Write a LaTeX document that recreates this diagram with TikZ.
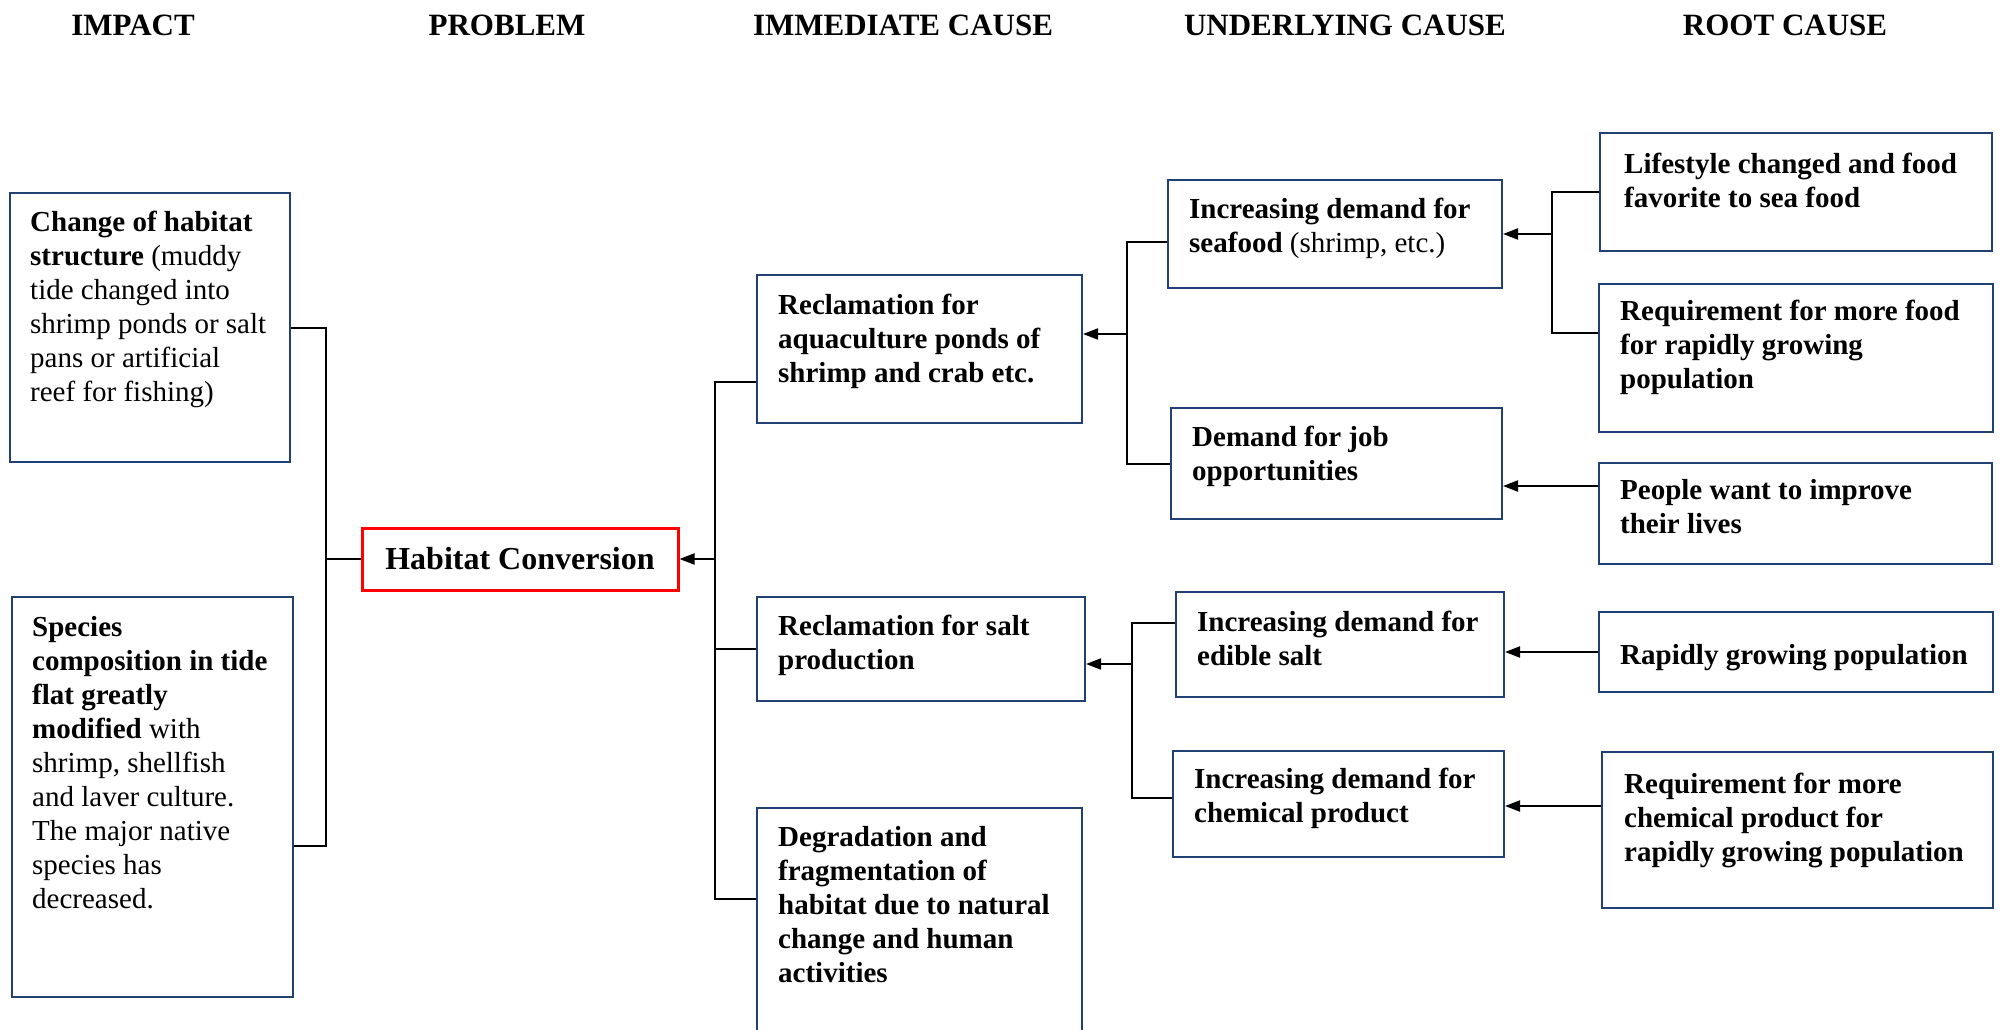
\documentclass[tikz,border=0pt]{standalone}
\usepackage{fontspec}
\setmainfont{Liberation Serif}
\usetikzlibrary{arrows.meta,calc}
\definecolor{boxblue}{RGB}{33,64,118}
\definecolor{hcred}{RGB}{255,0,0}
\begin{document}
\begin{tikzpicture}[x=1pt,y=-1pt,
  bx/.style={draw=boxblue,line width=2pt,inner sep=0pt},
  txt/.style={anchor=north west,align=left,inner sep=0pt,font=\fontsize{29}{34}\selectfont},
  txtb/.style={txt,font=\fontsize{29}{34}\selectfont\bfseries},
  hd/.style={anchor=base,inner sep=0pt,font=\fontsize{31}{36}\selectfont\bfseries},
  conn/.style={draw=black,line width=2pt},
  arr/.style={conn,-{Triangle[length=15pt,width=11pt]}}]
\useasboundingbox (0,0) rectangle (2006,1030);
\clip (0,0) rectangle (2006,1030);
\fill[white] (0,0) rectangle (2006,1030);

% headers
\node[hd] (h1) at (133,36) {IMPACT};
\node[hd] (h2) at (507,36) {PROBLEM};
\node[hd] (h3) at (903,36) {IMMEDIATE CAUSE};
\node[hd] (h4) at (1345,36) {UNDERLYING CAUSE};
\node[hd] (h5) at (1785,36) {ROOT CAUSE};

% boxes
\node[bx,minimum width=280pt,minimum height=269pt] (b1) at (150,327.5) {};
\node[bx,minimum width=281pt,minimum height=400pt] (b2) at (152.5,797) {};
\node[draw=hcred,line width=3pt,minimum width=316pt,minimum height=62pt,inner sep=0pt,font=\fontsize{32}{36}\selectfont\bfseries] (hc) at (520,559) {Habitat Conversion};
\node[bx,minimum width=325pt,minimum height=148pt] (b4) at (919.5,349) {};
\node[bx,minimum width=328pt,minimum height=104pt] (b5) at (921,649) {};
\node[bx,minimum width=325pt,minimum height=252pt] (b6) at (919.5,934) {};
\node[bx,minimum width=334pt,minimum height=108pt] (b7) at (1335,234) {};
\node[bx,minimum width=331pt,minimum height=111pt] (b8) at (1336.5,463.5) {};
\node[bx,minimum width=328pt,minimum height=105pt] (b9) at (1340,644.5) {};
\node[bx,minimum width=331pt,minimum height=106pt] (b10) at (1338.5,804) {};
\node[bx,minimum width=392pt,minimum height=118pt] (b11) at (1796,192) {};
\node[bx,minimum width=394pt,minimum height=148pt] (b12) at (1796,358) {};
\node[bx,minimum width=393pt,minimum height=101pt] (b13) at (1795.5,513.5) {};
\node[bx,minimum width=394pt,minimum height=80pt] (b14) at (1796,652) {};
\node[bx,minimum width=391pt,minimum height=156pt] (b15) at (1797.5,830) {};

% texts
\node[txt] (t1) at ($(b1.north west)+(21,19)$) {\textbf{Change of habitat}\\\textbf{structure} (muddy\\tide changed into\\shrimp ponds or salt\\pans or artificial\\reef for fishing)};
\node[txt] (t2) at ($(b2.north west)+(21,20)$) {\textbf{Species}\\\textbf{composition in tide}\\\textbf{flat greatly}\\\textbf{modified} with\\shrimp, shellfish\\and laver culture.\\The major native\\species has\\decreased.};
\node[txtb] (t4) at ($(b4.north west)+(22,20)$) {Reclamation for\\aquaculture ponds of\\shrimp and crab etc.};
\node[txtb] (t5) at ($(b5.north west)+(22,19)$) {Reclamation for salt\\production};
\node[txtb] (t6) at ($(b6.north west)+(22,19)$) {Degradation and\\fragmentation of\\habitat due to natural\\change and human\\activities};
\node[txt] (t7) at ($(b7.north west)+(22,19)$) {\textbf{Increasing demand for}\\\textbf{seafood} (shrimp, etc.)};
\node[txtb] (t8) at ($(b8.north west)+(22,19)$) {Demand for job\\opportunities};
\node[txtb] (t9) at ($(b9.north west)+(22,20)$) {Increasing demand for\\edible salt};
\node[txtb] (t10) at ($(b10.north west)+(22,18)$) {Increasing demand for\\chemical product};
\node[txtb] (t11) at ($(b11.north west)+(25,21)$) {Lifestyle changed and food\\favorite to sea food};
\node[txtb] (t12) at ($(b12.north west)+(22,17)$) {Requirement for more food\\for rapidly growing\\population};
\node[txtb] (t13) at ($(b13.north west)+(22,17)$) {People want to improve\\their lives};
\node[txtb] (t14) at ($(b14.north west)+(22,33)$) {Rapidly growing population};
\node[txtb] (t15) at ($(b15.north west)+(23,22)$) {Requirement for more\\chemical product for\\rapidly growing population};

% junctions
\coordinate (jL) at (326,559);
\coordinate (jR) at (715,559);
\coordinate (jA) at (1127,334);
\coordinate (jS) at (1132,664);
\coordinate (jF) at (1552,234);
\coordinate (p13) at ([yshift=27.5pt]b13.west);
\coordinate (p15) at ([yshift=24pt]b15.west);

% impact side
\draw[conn] (b1.east) -| (jL);
\draw[conn] ([yshift=-49pt]b2.east) -| (jL);
\draw[conn] (jL) -- (hc.west);

% immediate causes
\draw[arr] (jR) -- (hc.east);
\draw[conn] ([yshift=-33pt]b4.west) -| (jR);
\draw[conn] (b5.west) -| (jR);
\draw[conn] ([yshift=35pt]b6.west) -| (jR);

% underlying for aquaculture
\draw[arr] (jA) -- (b4.east |- jA);
\draw[conn] ([yshift=-8pt]b7.west) -| (jA);
\draw[conn] (b8.west) -| (jA);

% underlying for salt
\draw[arr] (jS) -- (b5.east |- jS);
\draw[conn] ([yshift=21.5pt]b9.west) -| (jS);
\draw[conn] ([yshift=6pt]b10.west) -| (jS);

% root causes
\draw[arr] (jF) -- (b7.east);
\draw[conn] (b11.west) -| (jF);
\draw[conn] ([yshift=25pt]b12.west) -| (jF);
\draw[arr] (p13) -- (b8.east |- p13);
\draw[arr] (b14.west) -- (b9.east |- b14.west);
\draw[arr] (p15) -- (b10.east |- p15);
\end{tikzpicture}
\end{document}
